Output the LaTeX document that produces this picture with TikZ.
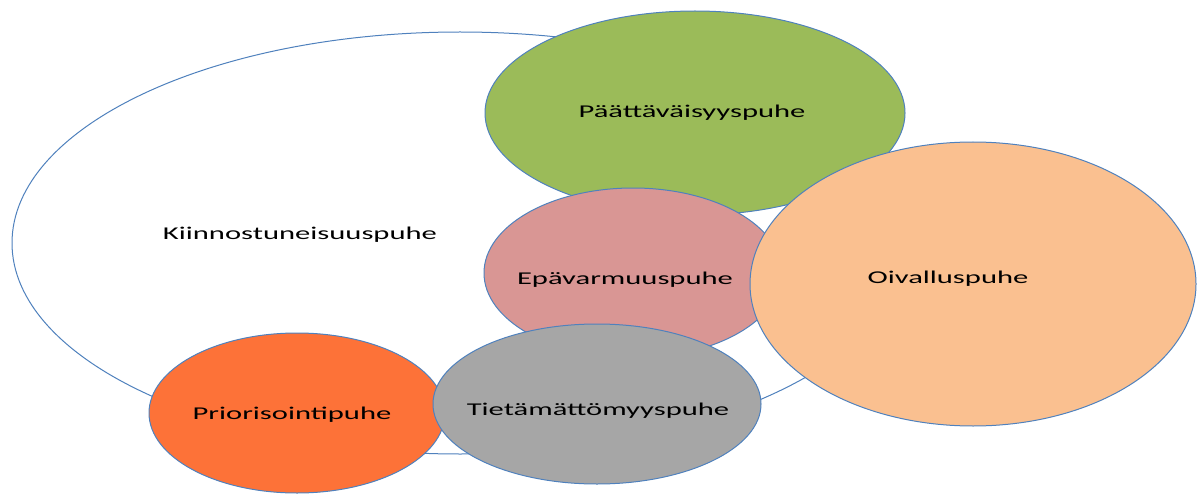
\documentclass[tikz,border=0pt]{standalone}
\usepackage{fontspec}
\usetikzlibrary{shapes.geometric}
\newfontfamily\lblfont[FakeStretch=1.7]{Carlito}
\definecolor{edgeblue}{HTML}{4F81BD}
\definecolor{greenfill}{HTML}{9BBB59}
\definecolor{pinkfill}{HTML}{D99694}
\definecolor{peachfill}{HTML}{FAC090}
\definecolor{orangefill}{HTML}{FD7238}
\definecolor{grayfill}{HTML}{A6A6A6}
\tikzset{
  blob/.style={ellipse, draw=edgeblue, line width=1pt, inner sep=0pt},
  lbl/.style={anchor=base, inner sep=0pt, font=\lblfont\fontsize{18}{21}\selectfont, text=black}
}
\begin{document}
\begin{tikzpicture}[x=1pt,y=-1pt]
\useasboundingbox (0,0) rectangle (1198,497);
\clip (0,0) rectangle (1198,497);
% big white ellipse
\node[blob, fill=white, minimum width=896pt, minimum height=422pt] (kiin) at (460,243) {};
\node[lbl] (kiint) at (300,239.5) {Kiinnostuneisuuspuhe};
% green
\node[blob, fill=greenfill, minimum width=420pt, minimum height=204pt] (paat) at (695,113) {};
\node[lbl] (paatt) at (692,118) {Päättäväisyyspuhe};
% pink
\node[blob, fill=pinkfill, minimum width=298pt, minimum height=170pt] (epav) at (633,273) {};
\node[lbl] (epavt) at (625,284.5) {Epävarmuuspuhe};
% peach
\node[blob, fill=peachfill, minimum width=446pt, minimum height=284pt] (oiva) at (973,284) {};
\node[lbl] (oivat) at (948,283.5) {Oivalluspuhe};
% orange
\node[blob, fill=orangefill, minimum width=296pt, minimum height=160pt] (prio) at (297,413) {};
\node[lbl] (priot) at (292,419.5) {Priorisointipuhe};
% gray
\node[blob, fill=grayfill, minimum width=328pt, minimum height=160pt] (tiet) at (597,404) {};
\node[lbl] (tiett) at (598,415.5) {Tietämättömyyspuhe};
\end{tikzpicture}
\end{document}
